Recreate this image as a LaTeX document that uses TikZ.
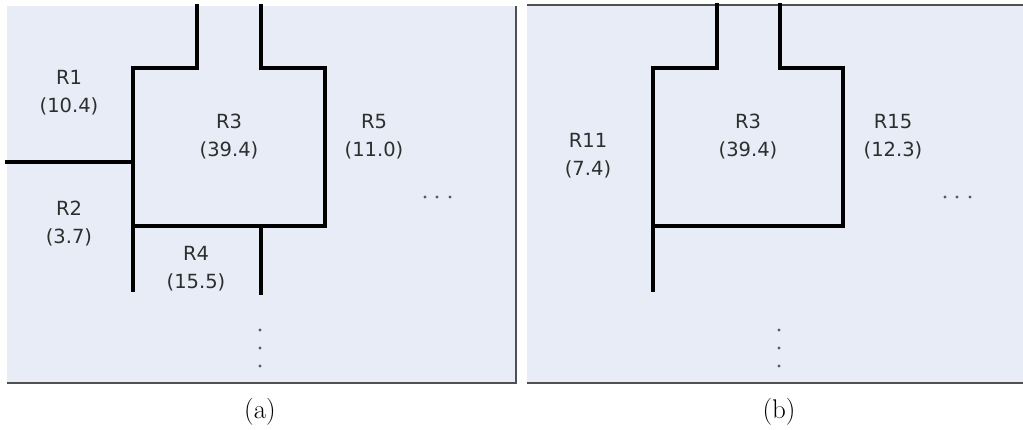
\documentclass[tikz,border=0pt]{standalone}
\usepackage{fontspec}
\newfontfamily\labelfont{DejaVu Sans}
\definecolor{bgpanel}{HTML}{E8ECF6}
\definecolor{edgegray}{HTML}{505050}
\definecolor{txtgray}{HTML}{2E2E2E}
\tikzset{
  wall/.style={line width=4.3pt, line join=miter, line cap=rect, black},
  region/.style={font=\labelfont\fontsize{19.5}{28}\selectfont, text=txtgray, align=center, inner sep=0pt},
  caption/.style={font=\fontsize{27}{30}\selectfont, inner sep=0pt},
  dotmark/.style={fill=black!65, draw=none},
}
\begin{document}
\begin{tikzpicture}[x=1pt,y=-1pt]
\useasboundingbox (0,0) rectangle (1023,429);
% panel backgrounds
\fill[bgpanel] (7,6) rectangle (516,383);
\draw[edgegray, line width=2pt] (7,383) -- (516,383) -- (516,6);
\fill[bgpanel] (527,5) rectangle (1023,383);
\draw[edgegray, line width=2pt] (527,5) -- (1023,5);
\draw[edgegray, line width=2pt] (527,383) -- (1023,383);

% ---------- panel (a) ----------
\draw[wall] (197,6) -- (197,68) -- (133,68) -- (133,290);
\draw[wall] (7,162) -- (133,162);
\draw[wall] (261,6) -- (261,68) -- (325,68) -- (325,226) -- (133,226);
\draw[wall] (261,226) -- (261,293);

\node[region] (r1) at (69,93) {R1\\(10.4)};
\node[region] (r2) at (69,224) {R2\\(3.7)};
\node[region] (r3a) at (229,137) {R3\\(39.4)};
\node[region] (r4) at (196,269) {R4\\(15.5)};
\node[region] (r5) at (374,137) {R5\\(11.0)};

\foreach \x in {425,437,450} \fill[dotmark] (\x,197) circle (1.6);
\foreach \y in {330,348,366} \fill[dotmark] (260,\y) circle (1.6);

\node[caption] (capa) at (260,412) {(a)};

% ---------- panel (b) ----------
\draw[wall] (717,5) -- (717,68) -- (653,68) -- (653,290);
\draw[wall] (780,5) -- (780,68) -- (843,68) -- (843,226) -- (653,226);

\node[region] (r11) at (588,156) {R11\\(7.4)};
\node[region] (r3b) at (748,137) {R3\\(39.4)};
\node[region] (r15) at (893,137) {R15\\(12.3)};

\foreach \x in {945,957,970} \fill[dotmark] (\x,197) circle (1.6);
\foreach \y in {330,348,366} \fill[dotmark] (779,\y) circle (1.6);

\node[caption] (capb) at (779,412) {(b)};
\end{tikzpicture}
\end{document}
